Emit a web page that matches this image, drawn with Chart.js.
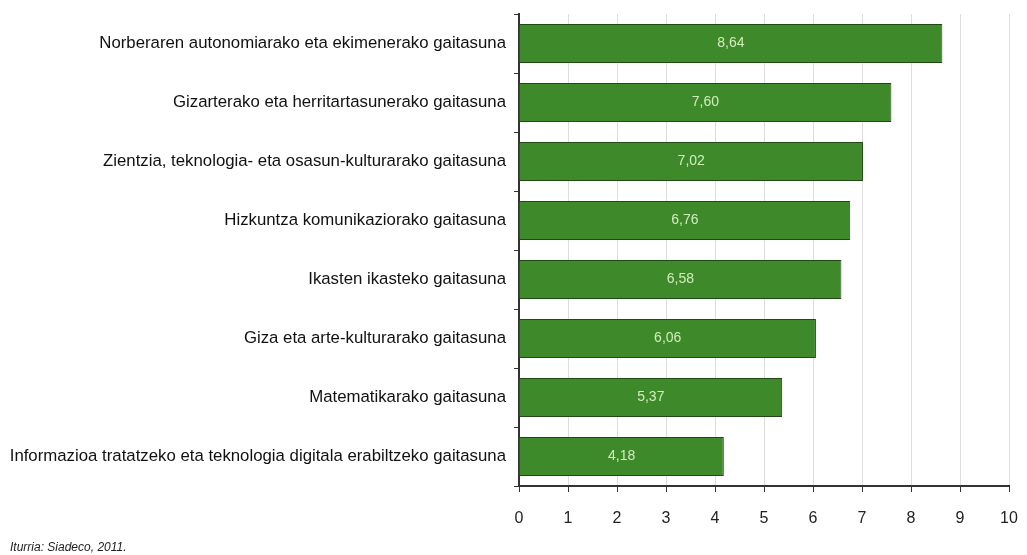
<!DOCTYPE html>
<html lang="eu">
<head>
<meta charset="UTF-8">
<title>Gaitasunak</title>
<script src="https://cdn.jsdelivr.net/npm/chart.js"></script>
<style>
  html, body { margin: 0; padding: 0; background: #fff; }
  #wrap { width: 1027px; height: 555px; position: relative; }
</style>
</head>
<body>
<div id="wrap">
  <canvas id="GaitasunChart" width="1027" height="555"></canvas>
</div>
<script>
// categories, top to bottom
const categories = [
  'Norberaren autonomiarako eta ekimenerako gaitasuna',
  'Gizarterako eta herritartasunerako gaitasuna',
  'Zientzia, teknologia- eta osasun-kulturarako gaitasuna',
  'Hizkuntza komunikaziorako gaitasuna',
  'Ikasten ikasteko gaitasuna',
  'Giza eta arte-kulturarako gaitasuna',
  'Matematikarako gaitasuna',
  'Informazioa tratatzeko eta teknologia digitala erabiltzeko gaitasuna'
];
const values = [8.64, 7.60, 7.02, 6.76, 6.58, 6.06, 5.37, 4.18];
const xTicks = [0, 1, 2, 3, 4, 5, 6, 7, 8, 9, 10];
const sourceNote = 'Iturria: Siadeco, 2011.';

// draws the value in the middle of each bar
const barLabels = {
    id: 'barLabels',
    afterDatasetsDraw(chart) {
        const ctx = chart.ctx;
        const meta = chart.getDatasetMeta(0);
        ctx.save();
        ctx.font = '14px "Liberation Sans", Arial, sans-serif';
        ctx.fillStyle = '#d2ecbd';
        ctx.textAlign = 'center';
        ctx.textBaseline = 'middle';
        meta.data.forEach((bar, i) => {
            const mid = (bar.base + bar.x) / 2;
            ctx.fillText(values[i].toFixed(2).replace('.', ','), mid, bar.y);
        });
        ctx.restore();
    }
};

// darker edges top and bottom, like the original bars
function barFill(context) {
    const chart = context.chart;
    const el = context.element;
    if (!el || el.y === undefined || !chart.chartArea) return '#3e8a2a';
    const h = el.height || 39;
    const g = chart.ctx.createLinearGradient(0, el.y - h / 2, 0, el.y + h / 2);
    g.addColorStop(0, '#275b1c');
    g.addColorStop(0.15, '#3b8229');
    g.addColorStop(0.5, '#408b2e');
    g.addColorStop(0.85, '#3a7f28');
    g.addColorStop(1, '#234f17');
    return g;
}

const ctx = document.getElementById('GaitasunChart').getContext('2d');
new Chart(ctx, {
    type: 'bar',
    data: {
        labels: categories,
        datasets: [{
            data: values,
            backgroundColor: barFill,
            borderColor: '#1f4a16',
            borderWidth: 1,
            categoryPercentage: 0.66,
            barPercentage: 1
        }]
    },
    options: {
        indexAxis: 'y',
        responsive: false,
        animation: false,
        layout: { padding: { top: 14, right: 18, left: 10, bottom: 0 } },
        plugins: {
            legend: { display: false },
            tooltip: { enabled: false },
            title: {
                display: true,
                text: sourceNote,
                position: 'bottom',
                align: 'start',
                color: '#222',
                font: { family: '"Liberation Sans", Arial, sans-serif', size: 12, style: 'italic', weight: 'normal' },
                padding: { top: 2.6, bottom: 0 }
            }
        },
        scales: {
            x: {
                min: 0,
                max: 10,
                afterBuildTicks: (scale) => { scale.ticks = xTicks.map(v => ({ value: v })); },
                grid: { color: '#dcdcdc', tickLength: 6, tickColor: '#333' },
                border: { color: '#333', width: 2 },
                ticks: {
                    color: '#222',
                    padding: 17,
                    font: { family: '"Liberation Sans", Arial, sans-serif', size: 16 }
                },
                afterFit: (scale) => {
                    scale.height = 52;
                    scale.paddingLeft = 0;
                    scale.paddingRight = 0;
                }
            },
            y: {
                grid: { drawOnChartArea: false, tickLength: 5, tickColor: '#333', offset: true },
                border: { color: '#333', width: 2 },
                ticks: {
                    color: '#111',
                    padding: 8,
                    font: { family: '"Liberation Sans", Arial, sans-serif', size: 16.8 }
                },
                afterFit: (scale) => {
                    scale.width = 509;
                    scale.paddingTop = 0;
                    scale.paddingBottom = 0;
                }
            }
        }
    },
    plugins: [barLabels]
});
</script>
</body>
</html>
